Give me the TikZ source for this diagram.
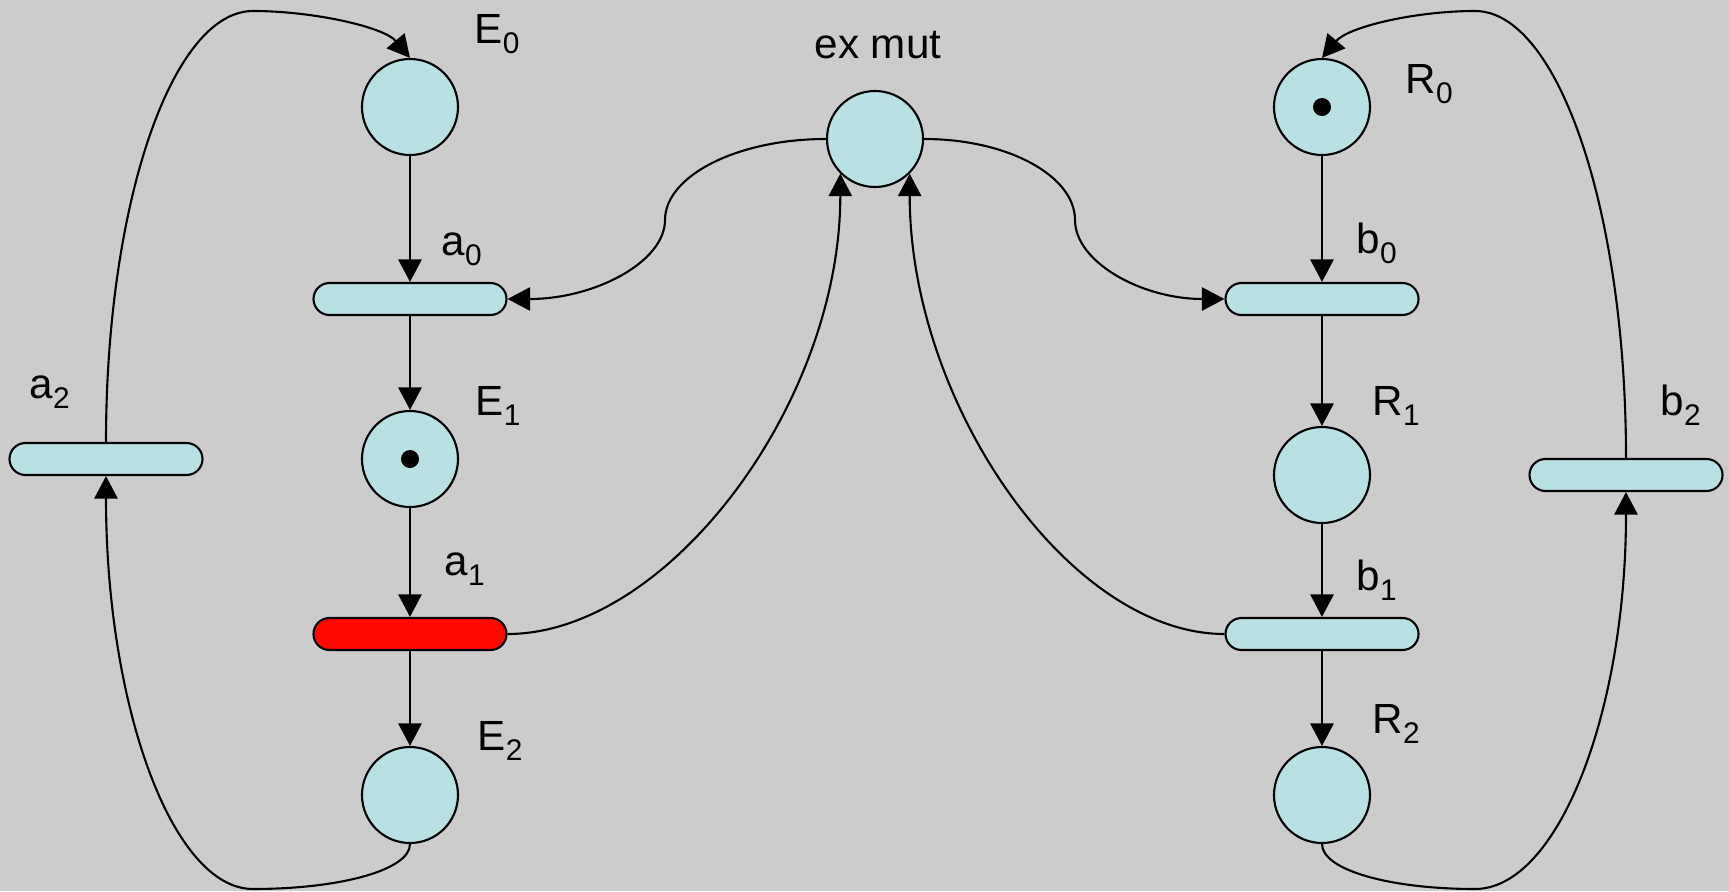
\documentclass[tikz,border=0pt]{standalone}
\usepackage{fontspec}
\setmainfont{Liberation Sans}
\usetikzlibrary{arrows.meta}
\definecolor{pgray}{HTML}{CCCCCC}
\definecolor{pcyan}{HTML}{B9E0E3}
\definecolor{pred}{HTML}{FF0800}
\newcommand{\lowidx}[1]{\raisebox{-0.1cm}{\fontsize{8.5}{9}\selectfont #1}}
\tikzset{
  place/.style={circle,draw,fill=pcyan,line width=0.6pt,minimum size=0.96cm,inner sep=0pt},
  trans/.style={rectangle,draw,fill=pcyan,line width=0.6pt,rounded corners=0.16cm,minimum width=1.93cm,minimum height=0.32cm,inner sep=0pt},
  fired/.style={trans,fill=pred},
  arr/.style={-{Triangle[length=6.4pt,width=6.6pt]},line width=0.6pt},
  lbl/.style={font=\fontsize{12}{14}\selectfont,inner sep=0pt,anchor=base west},
}
\begin{document}
\begin{tikzpicture}
  \fill[pgray] (0,0) rectangle (17.29,8.91);
  \useasboundingbox (0,0) rectangle (17.29,8.91);
  % --- process E
  \node[place] (E0) at (4.10,7.84) {};
  \node[trans] (a0) at (4.10,5.92) {};
  \node[place] (E1) at (4.10,4.32) {};
  \node[fired] (a1) at (4.10,2.57) {};
  \node[place] (E2) at (4.10,0.96) {};
  \node[trans] (a2) at (1.06,4.32) {};
  % --- process R
  \node[place] (R0) at (13.22,7.84) {};
  \node[trans] (b0) at (13.22,5.92) {};
  \node[place] (R1) at (13.22,4.16) {};
  \node[trans] (b1) at (13.22,2.57) {};
  \node[place] (R2) at (13.22,0.96) {};
  \node[trans] (b2) at (16.26,4.16) {};
  % mutex place
  \node[place] (mut) at (8.75,7.52) {};
  % tokens
  \fill (E1.center) circle (0.09);
  \fill (R0.center) circle (0.09);
  % labels
  \node[lbl] (lE0) at (4.74,8.48) {E\lowidx{0}};
  \node[lbl] (la0) at (4.41,6.36) {a\lowidx{0}};
  \node[lbl] (lE1) at (4.75,4.76) {E\lowidx{1}};
  \node[lbl] (la1) at (4.44,3.16) {a\lowidx{1}};
  \node[lbl] (lE2) at (4.77,1.41) {E\lowidx{2}};
  \node[lbl] (la2) at (0.29,4.93) {a\lowidx{2}};
  \node[lbl] (lR0) at (14.05,7.98) {R\lowidx{0}};
  \node[lbl] (lb0) at (13.56,6.38) {b\lowidx{0}};
  \node[lbl] (lR1) at (13.72,4.76) {R\lowidx{1}};
  \node[lbl] (lb1) at (13.56,3.01) {b\lowidx{1}};
  \node[lbl] (lR2) at (13.72,1.58) {R\lowidx{2}};
  \node[lbl] (lb2) at (16.60,4.76) {b\lowidx{2}};
  \node[lbl,anchor=base] (lmut) at (8.78,8.33) {ex mut};
  % straight arcs
  \draw[arr] (E0) -- (a0);
  \draw[arr] (a0) -- (E1);
  \draw[arr] (E1) -- (a1);
  \draw[arr] (a1) -- (E2);
  \draw[arr] (R0) -- (b0);
  \draw[arr] (b0) -- (R1);
  \draw[arr] (R1) -- (b1);
  \draw[arr] (b1) -- (R2);
  % loops back to the start
  \coordinate (topL) at (2.53,8.80);
  \coordinate (botL) at (2.53,0.02);
  \coordinate (topR) at (14.75,8.80);
  \coordinate (botR) at (14.75,0.02);
  \draw[arr] (a2.north) .. controls +(0,2.38) and +(-0.81,0) .. (topL) .. controls +(0.6,0) and +(-0.26,0.31) .. (E0.north);
  \draw[arr] (E2.south) .. controls +(0,-0.26) and +(0.87,0) .. (botL) .. controls +(-0.81,0) and +(0,-2.29) .. (a2.south);
  \draw[arr] (b2.north) .. controls +(0,2.47) and +(0.83,0) .. (topR) .. controls +(-0.6,0) and +(0.26,0.31) .. (R0.north);
  \draw[arr] (R2.south) .. controls +(0,-0.26) and +(-0.85,0) .. (botR) .. controls +(0.83,0) and +(0,-2.2) .. (b2.south);
  % mutex arcs
  \coordinate (midL) at (6.65,6.71);
  \coordinate (midR) at (10.75,6.71);
  \draw[arr] (mut.west) .. controls +(-0.89,0) and +(0,0.44) .. (midL) .. controls +(0,-0.42) and +(0.87,0) .. (a0.east);
  \draw[arr] (mut.east) .. controls +(0.84,0) and +(0,0.44) .. (midR) .. controls +(0,-0.42) and +(-0.83,0) .. (b0.west);
  \draw[arr] (a1.east) .. controls +(1.6,0) and +(0,-2.3) .. (mut.-135);
  \draw[arr] (b1.west) .. controls +(-1.55,0) and +(0,-2.3) .. (mut.-45);
\end{tikzpicture}
\end{document}
